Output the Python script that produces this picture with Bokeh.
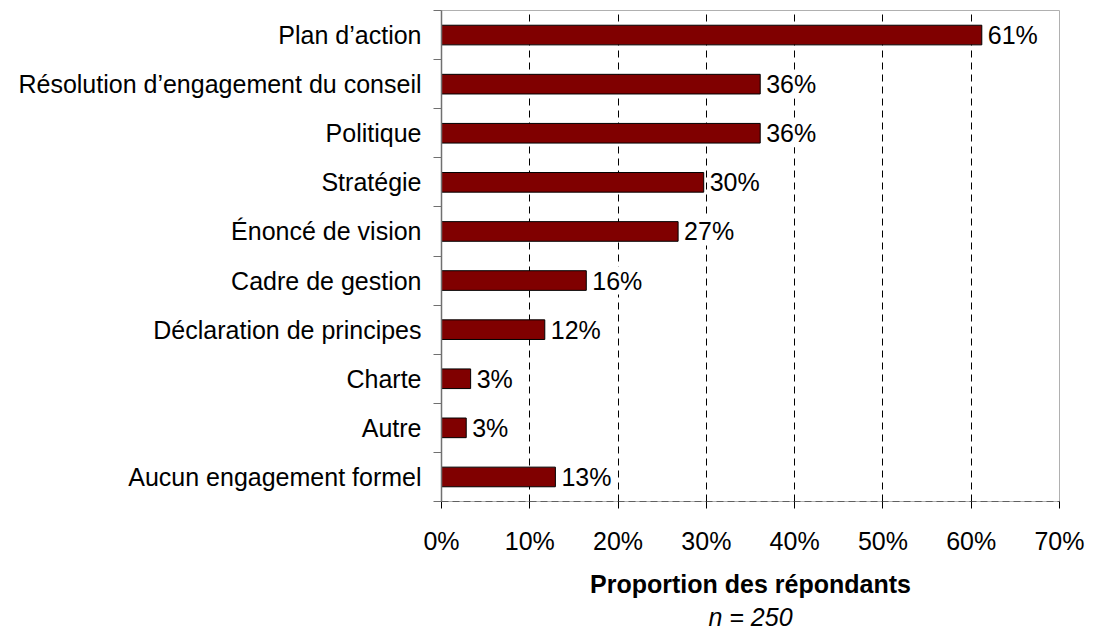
from bokeh.plotting import figure
from bokeh.models import Range1d, FixedTicker, Title, ColumnDataSource
from bokeh.embed import file_html
from bokeh.resources import INLINE

categories = ["Plan d’action", "Résolution d’engagement du conseil", "Politique",
              "Stratégie", "Énoncé de vision", "Cadre de gestion",
              "Déclaration de principes", "Charte", "Autre", "Aucun engagement formel"]
values = [61.2, 36.1, 36.1, 29.7, 26.8, 16.4, 11.7, 3.3, 2.8, 12.9]
value_labels = ["61%", "36%", "36%", "30%", "27%", "16%", "12%", "3%", "3%", "13%"]
x_ticks = [0, 10, 20, 30, 40, 50, 60, 70]
x_tick_labels = ["0%", "10%", "20%", "30%", "40%", "50%", "60%", "70%"]
x_title = "Proportion des répondants"
note = "n = 250"

n = len(categories)
centers = [n - 0.5 - i for i in range(n)]
bounds = list(range(n + 1))

FONT = "Liberation Sans"
FS = "25px"

p = figure(width=1097, height=630, output_backend="svg", toolbar_location=None,
           x_range=Range1d(0, 70), y_range=Range1d(0, n),
           min_border_left=441, min_border_right=38, min_border_top=10,
           min_border_bottom=126)
p.background_fill_color = "white"
p.border_fill_color = "white"
p.outline_line_color = "#b0b0b0"
p.outline_line_width = 1

src = ColumnDataSource(dict(y=centers, right=values, lab=value_labels))
p.hbar(y="y", right="right", left=0, height=0.4, source=src,
       fill_color="#800000", line_color="black", line_width=1)
p.text(x="right", y="y", text="lab", source=src, x_offset=6,
       text_baseline="middle", text_align="left", text_font_size=FS,
       text_color="black", text_font={"value": FONT},
       background_fill_color="white")

# grids
p.ygrid.visible = False
p.xgrid.ticker = FixedTicker(ticks=x_ticks[1:-1])
p.xgrid.grid_line_color = "black"
p.xgrid.grid_line_dash = "7 5"
p.xgrid.grid_line_width = 1

# x axis
xa = p.xaxis[0]
xa.ticker = FixedTicker(ticks=x_ticks)
xa.major_label_overrides = {t: l for t, l in zip(x_ticks, x_tick_labels)}
xa.major_tick_out = 7
xa.major_tick_in = 0
xa.minor_tick_out = 0
xa.minor_tick_in = 0
xa.major_tick_line_color = "black"
xa.axis_line_color = "#606060"
xa.axis_line_dash = "7 4"
xa.major_label_standoff = 18
xa.major_label_text_font = FONT
xa.major_label_text_font_size = FS
xa.major_label_text_color = "black"
xa.axis_label = x_title
xa.axis_label_text_font = FONT
xa.axis_label_text_font_size = FS
xa.axis_label_text_font_style = "bold"
xa.axis_label_text_color = "black"
xa.axis_label_standoff = 12

# y axis
ya = p.yaxis[0]
ya.ticker = FixedTicker(ticks=centers, minor_ticks=bounds)
ya.major_label_overrides = {c: l for c, l in zip(centers, categories)}
ya.major_tick_out = 0
ya.major_tick_in = 0
ya.minor_tick_out = 8
ya.minor_tick_in = 0
ya.minor_tick_line_color = "#707070"
ya.axis_line_color = "#707070"
ya.axis_line_width = 1.5
ya.major_label_standoff = 12
ya.major_label_text_font = FONT
ya.major_label_text_font_size = FS
ya.major_label_text_color = "black"

t = Title(text=note, align="center", text_font=FONT, text_font_size=FS,
          text_font_style="italic", text_color="black", standoff=0)
p.add_layout(t, "below")

open("out.html", "w").write(file_html(p, INLINE))
